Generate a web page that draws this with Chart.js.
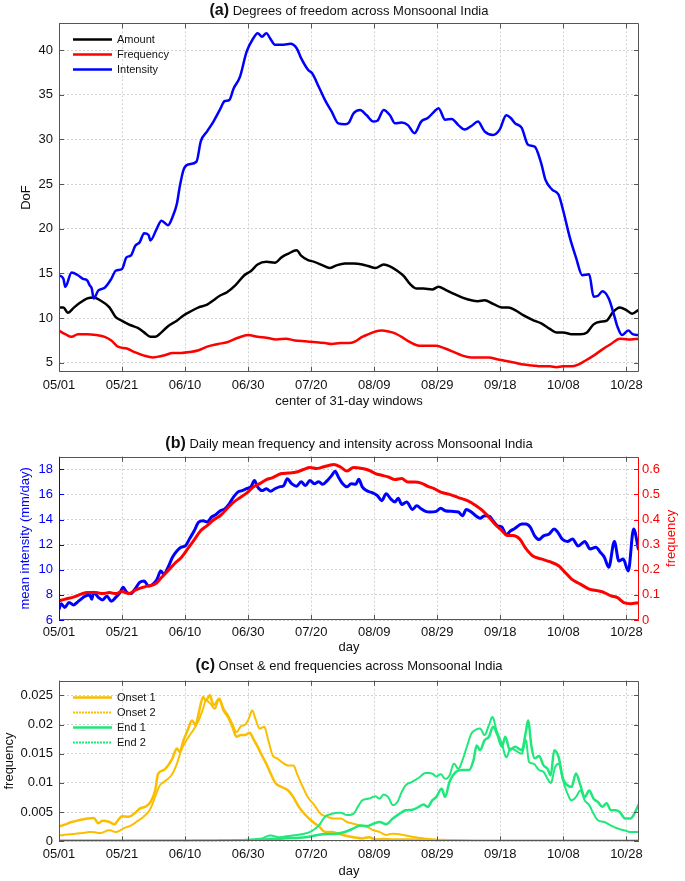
<!DOCTYPE html>
<html><head><meta charset="utf-8">
<script src="https://cdn.jsdelivr.net/npm/chart.js@4.4.0/dist/chart.umd.min.js"></script>
<style>
html,body{margin:0;padding:0;background:#fff;}
body{width:685px;height:881px;position:relative;overflow:hidden;font-family:"Liberation Sans",Arial,Helvetica,sans-serif;}
canvas{position:absolute;left:0;}
.ttl{position:absolute;left:59px;width:580px;text-align:center;font-size:13px;color:#111;line-height:18px;white-space:nowrap;z-index:2;}
.ttl b{font-size:16px;}
</style></head><body>
<canvas id="ca" width="685" height="415" style="top:0px"></canvas>
<canvas id="cb" width="685" height="230" style="top:430px"></canvas>
<canvas id="cc" width="685" height="221" style="top:660px"></canvas>
<div class="ttl" style="top:1px"><b>(a)</b> Degrees of freedom across Monsoonal India</div>
<div class="ttl" style="top:434px"><b>(b)</b> Daily mean frequency and intensity across Monsoonal India</div>
<div class="ttl" style="top:656px"><b>(c)</b> Onset &amp; end frequencies across Monsoonal India</div>
<script>
// ---------- shared x axis ----------
const tickDays = [0,20,40,60,80,100,120,140,160,180];
const tickLabels = ['05/01','05/21','06/10','06/30','07/20','08/09','08/29','09/18','10/08','10/28'];
const xMin = 0, xMax = 184;

// ---------- panel (a): degrees of freedom ----------
const aTicks = [5,10,15,20,25,30,35,40];
const aTickLabels = ['5','10','15','20','25','30','35','40'];
const amountA = [[0,11.2],[1.4,11.2],[2.8,10.6],[4.8,11.2],[7,11.8],[9,12.2],[11,12.3],[13,12.0],[16,11.2],[18,10.1],[20,9.7],[22.8,9.2],[25,8.9],[27,8.4],[29,7.9],[30.5,7.9],[32.5,8.4],[34.6,9.1],[37.4,9.7],[39.5,10.3],[41.5,10.7],[44.3,11.2],[47,11.5],[49,12.0],[51,12.5],[53.3,12.9],[56,13.7],[58.8,14.8],[61,15.3],[63,16.0],[65.8,16.3],[68.5,16.2],[70.6,16.8],[72.7,17.2],[75.4,17.6],[76.8,17.0],[79,16.5],[81,16.3],[83.7,15.9],[85.8,15.6],[88,15.9],[90.7,16.1],[93.4,16.1],[96.2,16.0],[98.3,15.8],[100.4,15.6],[103,16.0],[105,15.8],[107.3,15.3],[109.4,14.7],[111.4,13.8],[113.5,13.3],[115.6,13.3],[118.4,13.2],[120.4,13.5],[122.5,13.2],[125.3,12.7],[128,12.3],[130.8,12.0],[132.9,11.9],[135,12.0],[137.7,11.6],[140.5,11.2],[142.6,11.2],[144.7,10.9],[147.4,10.3],[150.2,9.8],[153,9.4],[155.7,8.8],[157.8,8.4],[159.9,8.4],[162.6,8.2],[165.4,8.2],[167.5,8.4],[169.6,9.3],[171.7,9.6],[173.7,9.7],[175.8,10.7],[177.9,11.2],[180,10.9],[181.8,10.5],[183.8,10.9]];
const freqA = [[0,8.6],[2,8.2],[4,7.9],[6,8.2],[9,8.2],[11.8,8.1],[14.5,7.9],[16.6,7.5],[18.7,6.8],[21.5,6.6],[24,6.2],[27,5.8],[29.8,5.6],[31.8,5.7],[34,5.9],[36,6.1],[38.8,6.1],[41.5,6.2],[44.3,6.4],[47,6.8],[50.5,7.1],[53.3,7.3],[56.8,7.8],[60,8.1],[63,7.9],[65.8,7.8],[69,7.6],[72,7.7],[74.8,7.5],[78.2,7.4],[81.7,7.3],[84.4,7.2],[86.5,7.1],[89.3,7.2],[92,7.2],[94,7.4],[96.2,7.9],[98.3,8.2],[100.4,8.5],[102.4,8.6],[104.5,8.5],[106.6,8.3],[108.7,7.9],[111.4,7.3],[114.2,6.9],[117,6.9],[119.7,6.9],[122.5,6.6],[125.3,6.2],[128,5.8],[130.8,5.6],[133.6,5.6],[136.4,5.6],[139,5.4],[141.9,5.2],[144.7,5.0],[147.4,4.8],[150.2,4.7],[153,4.6],[155.7,4.6],[157.8,4.5],[159.9,4.6],[162.6,4.6],[164.7,4.8],[166.8,5.2],[169.6,5.8],[172.4,6.5],[175.1,7.1],[177.9,7.7],[180.6,7.6],[183.8,7.7]];
const intensityA = [[0,14.8],[1.4,14.4],[2,13.5],[4,15.1],[6,14.8],[7.6,14.4],[9,14.2],[9.7,13.7],[10.4,13.3],[11,12.2],[12.5,13.1],[14.5,13.4],[16.6,14.4],[18,15.3],[20,15.5],[21.4,16.8],[22.8,17.0],[24.2,18.1],[25.6,18.5],[27,19.5],[28.4,19.3],[29,18.7],[31,20.0],[32.5,20.9],[34.6,20.4],[36,21.3],[37.4,22.8],[38.3,24.7],[39.5,26.6],[41,27.2],[43.6,27.5],[45,29.8],[47,30.9],[49,32.0],[51,33.3],[52.6,34.3],[54,34.4],[55.4,35.7],[57.4,37.0],[59.5,39.8],[61.6,41.3],[63,41.9],[64.4,41.5],[65.8,41.9],[67,41.3],[68.5,40.6],[71.3,40.6],[73.4,40.7],[75.4,40.2],[76.8,39.1],[79,37.8],[80.3,37.4],[82.4,35.9],[84.4,34.4],[86.5,33.1],[88.6,31.8],[90.7,31.7],[92,31.9],[93.4,32.9],[95.5,33.3],[97.6,32.7],[99.7,32.0],[101,32.1],[103,33.3],[105,32.7],[106.6,31.8],[108.7,31.9],[110.7,31.6],[112.8,30.7],[114.9,32.0],[117,32.4],[119,33.1],[120.4,33.5],[122.5,32.2],[124.6,32.3],[126.7,31.6],[128.7,31.1],[130.8,31.5],[132.9,32.0],[135,30.9],[137.7,30.5],[139.8,31.1],[141.9,32.7],[143.3,32.4],[144.7,31.8],[146.8,31.3],[148.8,29.4],[150.9,29.2],[153,27.3],[154.3,25.5],[156.4,24.4],[158.5,23.8],[159.9,22.1],[162,19.1],[164,16.8],[166,14.8],[168.2,14.9],[169.6,12.4],[171,12.5],[172.4,13.0],[174.4,12.2],[175.8,10.7],[177.2,9.0],[178.6,8.1],[180.6,8.6],[182,8.2],[183.8,8.1]];

// ---------- panel (b): daily mean intensity & frequency ----------
const bLeftTicks = [6,8,10,12,14,16,18];
const bLeftLabels = ['6','8','10','12','14','16','18'];
const bRightTicks = [0,0.1,0.2,0.3,0.4,0.5,0.6];
const bRightLabels = ['0','0.1','0.2','0.3','0.4','0.5','0.6'];
const intensityB = [[0,6.85],[0.7,7.3],[1.8,7.0],[3.2,7.4],[4.6,7.2],[6.2,7.5],[8.3,7.9],[9.7,8.0],[10.4,7.65],[11,8.2],[12.5,7.8],[13.8,7.6],[15.2,7.9],[16.6,7.5],[18,7.8],[19.4,8.2],[20.3,8.6],[21.5,8.2],[22.8,8.1],[24.2,8.5],[25.6,9.0],[27,9.1],[28.4,8.7],[29.8,8.85],[31.1,9.25],[32.3,9.9],[33.2,9.65],[34.6,10.2],[36,11.0],[37.4,11.5],[38.8,11.8],[40.1,11.9],[41.5,12.5],[42.9,13.1],[44.3,13.8],[45.7,13.9],[47,13.8],[48.4,14.2],[49.8,14.4],[51.2,14.7],[52.6,14.85],[54,15.25],[55.4,15.8],[56.8,16.2],[58.1,16.3],[59.5,16.45],[60.9,16.6],[62,17.1],[63,16.6],[64.4,16.3],[65.8,16.45],[67.1,16.25],[68.5,16.45],[69.9,16.6],[71.3,16.7],[72.4,17.25],[73.8,16.85],[75.4,16.65],[76.8,17.0],[78.2,16.7],[79.6,17.1],[81,16.85],[82.4,17.0],[83.7,16.8],[85.1,17.1],[86.5,17.5],[87.6,17.85],[88.6,17.4],[90,16.85],[91.4,16.6],[92.7,16.85],[94.1,16.8],[95.1,17.2],[96.2,16.6],[97.6,16.3],[99.7,16.1],[101,15.9],[102.4,15.5],[103.8,16.05],[105.2,15.65],[106.6,15.4],[107.6,15.7],[108.7,15.2],[110.3,15.4],[112.1,14.8],[113.5,15.1],[114.9,14.85],[116.3,14.65],[117.7,14.6],[119.7,14.65],[121.1,14.9],[122.5,14.7],[124.6,14.65],[126.7,14.6],[128,14.3],[129.2,14.8],[130.8,14.6],[132.2,14.3],[133.6,14.1],[135,14.3],[136.6,14.25],[137.7,13.9],[139.1,13.5],[140.5,13.4],[141.9,12.8],[143.3,13.1],[144.7,13.3],[146.8,13.65],[148.1,13.65],[149.5,13.4],[150.9,12.7],[152.3,12.4],[153.7,12.7],[155.5,12.85],[157.1,13.25],[158.2,13.0],[159.6,12.45],[161.3,12.25],[162.9,12.45],[164.7,11.9],[166.8,12.25],[168.5,11.65],[170.3,11.8],[171.7,11.4],[173,11.0],[174.4,10.2],[176.2,12.25],[177.6,10.7],[179,10.85],[180.6,9.9],[182.3,13.25],[183.8,11.65]];
const freqB = [[0,0.076],[2,0.083],[4.8,0.092],[7,0.103],[9,0.109],[11.8,0.109],[13.8,0.105],[16,0.109],[18,0.105],[20,0.113],[22.1,0.105],[24.2,0.119],[26.3,0.129],[28.4,0.136],[30.5,0.143],[32.5,0.169],[34.6,0.196],[36.7,0.225],[38.8,0.249],[40.8,0.283],[42.9,0.319],[45,0.356],[47,0.376],[49.1,0.399],[51.2,0.416],[53.3,0.443],[55.4,0.469],[57.4,0.487],[59.5,0.505],[61.6,0.529],[63.7,0.543],[65.8,0.559],[67.8,0.567],[69.2,0.576],[70.6,0.583],[72.7,0.585],[75.4,0.589],[77.5,0.599],[79.6,0.607],[81.7,0.603],[83.7,0.609],[85.8,0.616],[87.2,0.619],[89.3,0.609],[91.4,0.593],[93.4,0.607],[96.2,0.603],[98.3,0.596],[100.4,0.583],[102.4,0.576],[104.5,0.569],[106.6,0.559],[108.7,0.563],[110.7,0.549],[112.8,0.549],[114.9,0.545],[117,0.532],[119,0.523],[121.1,0.509],[123.9,0.5],[126.7,0.487],[129.4,0.476],[132.2,0.456],[134.3,0.436],[136.4,0.409],[138.4,0.38],[140.5,0.356],[142.2,0.336],[144,0.336],[146.1,0.323],[148.2,0.283],[150.2,0.256],[153,0.243],[155.7,0.232],[158.5,0.216],[160.6,0.189],[162.6,0.163],[165.4,0.143],[168.2,0.123],[171,0.116],[173,0.109],[175.1,0.096],[177.2,0.089],[179.2,0.069],[181.3,0.065],[183.8,0.069]];

// ---------- panel (c): onset & end frequencies ----------
const cTicks = [0,0.005,0.01,0.015,0.02,0.025];
const cTickLabels = ['0','0.005','0.01','0.015','0.02','0.025'];
const onset1 = [[0,0.0025],[2,0.0029],[4,0.0033],[6.2,0.0036],[9,0.0039],[11,0.004],[12.5,0.0031],[13.8,0.0035],[16,0.0033],[17.6,0.0029],[18.7,0.0036],[20,0.0043],[22.1,0.0042],[24.2,0.0049],[25.6,0.0056],[27.7,0.006],[29,0.0067],[30.5,0.0087],[31.4,0.0115],[33.2,0.0122],[34.6,0.013],[36,0.0142],[37.4,0.0159],[38.3,0.0153],[39.5,0.0173],[40.8,0.019],[42.2,0.0207],[43.3,0.0199],[44.3,0.0219],[45.7,0.0247],[46.6,0.0241],[47.8,0.025],[49.1,0.0233],[50.8,0.0244],[52.2,0.0224],[53.6,0.0213],[55,0.0196],[56.3,0.0179],[57.7,0.0182],[59.1,0.0182],[60.5,0.0186],[61.6,0.0176],[63,0.0162],[64.4,0.0147],[66,0.013],[67.4,0.0113],[68.8,0.0099],[70.6,0.0093],[72.7,0.0087],[74.3,0.0076],[76.1,0.0059],[78.2,0.0045],[79.9,0.0036],[81.3,0.003],[82.6,0.0025],[84.4,0.0016],[86.5,0.0016],[88.6,0.0013],[90.7,0.001],[93.4,0.0007],[96.2,0.0005],[98.3,0.0007],[100.4,0.0003],[103,0.0004],[105.9,0.0003],[111.4,0.0003],[117,0.0002],[126.7,0.0001],[133.6,0.0001],[147.4,0.0001],[160,0.0001],[183.8,0.0001]];
const onset2 = [[0,0.001],[3.5,0.0012],[7,0.0014],[10.4,0.0016],[13,0.0014],[16,0.0019],[18,0.0016],[20.8,0.0023],[22.8,0.0027],[25,0.0035],[27,0.0043],[29,0.0056],[30.9,0.0082],[31.8,0.0094],[33.9,0.0104],[36,0.0116],[37.4,0.0133],[38.8,0.0156],[40.1,0.017],[41.5,0.0182],[42.9,0.0193],[44.3,0.0207],[45.7,0.0227],[46.6,0.0241],[48,0.0236],[49.4,0.0227],[50.8,0.0244],[52.2,0.0227],[53.6,0.0216],[55,0.0201],[56.3,0.0187],[57.7,0.0197],[59.1,0.02],[60.2,0.021],[61.3,0.0224],[62.3,0.021],[63.7,0.0193],[65.1,0.0196],[66.4,0.0173],[67.8,0.0147],[69.2,0.0142],[70.6,0.0136],[72.7,0.013],[74.3,0.013],[75.7,0.0113],[77.1,0.0096],[78.9,0.0076],[81,0.0062],[83,0.0047],[85.1,0.0042],[87.2,0.0039],[89.3,0.0039],[91.4,0.0033],[93.4,0.003],[95.5,0.0027],[97.6,0.0025],[99.7,0.0019],[101.7,0.0016],[103.8,0.0011],[105.9,0.0013],[108,0.0012],[110,0.001],[112.8,0.0007],[115.6,0.0005],[119.7,0.0003],[126.7,0.0002],[133.6,0.0001],[183.8,0.0001]];
const end1 = [[0,0.0001],[30,0.0001],[50,0.0001],[64.4,0.0003],[71.3,0.0005],[78.2,0.0007],[83.7,0.0012],[88,0.0013],[90.7,0.0016],[93.4,0.0022],[95.5,0.0027],[97.6,0.0026],[99.7,0.003],[101.7,0.0033],[103.8,0.0029],[105.9,0.0039],[108,0.0047],[110,0.0053],[112.1,0.0054],[114.2,0.0059],[115.6,0.0063],[117,0.0059],[118.4,0.007],[119.7,0.0076],[121.4,0.009],[122.5,0.0076],[123.9,0.0102],[126,0.0119],[128,0.0122],[130.1,0.0122],[131.5,0.0139],[132.5,0.0164],[133.6,0.0156],[135,0.0173],[136.4,0.0179],[137.7,0.0196],[139.1,0.0182],[140.5,0.0162],[141.6,0.0179],[143,0.0156],[144.7,0.0162],[146.8,0.0156],[148.1,0.0187],[148.8,0.0207],[149.9,0.0162],[150.9,0.0142],[152.3,0.0146],[153.7,0.013],[155,0.0124],[156,0.0113],[157.1,0.0156],[158.5,0.0144],[159.9,0.0107],[161.3,0.0096],[162.6,0.0093],[164,0.0116],[165.4,0.0096],[166.8,0.0076],[168.2,0.0087],[169.6,0.0073],[171,0.0067],[172.4,0.0059],[173.7,0.0065],[175.1,0.0053],[176.5,0.0053],[177.9,0.005],[179.6,0.0039],[181.3,0.0039],[182.3,0.0045],[183.8,0.0062]];
const end2 = [[0,0.0001],[30,0.0001],[55,0.0002],[64.4,0.0005],[67.1,0.001],[69.9,0.0007],[72.7,0.0009],[76.8,0.0012],[79.6,0.0016],[82.4,0.0027],[84.4,0.0042],[86.5,0.0047],[89.3,0.0049],[91.4,0.0045],[93.4,0.0047],[94.8,0.0059],[96.2,0.007],[98.3,0.0073],[100.4,0.0077],[101.7,0.0073],[103,0.008],[104.5,0.0075],[105.9,0.0062],[107.3,0.0067],[108.7,0.0084],[110,0.0096],[112.1,0.0102],[114.2,0.0109],[116.3,0.0117],[118.4,0.0116],[119.7,0.0111],[121.1,0.0115],[122.5,0.0107],[123.9,0.0113],[125.3,0.0133],[126.7,0.0124],[128,0.0139],[129.4,0.0162],[130.8,0.0184],[132.2,0.0191],[133.6,0.0193],[135,0.0182],[136.4,0.0199],[137.5,0.0213],[138.8,0.019],[140.5,0.0167],[141.9,0.0144],[143.3,0.0159],[144.7,0.0156],[146.8,0.015],[148.1,0.0173],[149.1,0.0136],[150.5,0.0133],[152.3,0.0122],[153.7,0.0119],[155,0.0107],[156,0.01],[157.4,0.0127],[158.5,0.0133],[159.9,0.0104],[161.3,0.0082],[162.6,0.007],[164,0.0076],[165.4,0.0087],[166.8,0.007],[168.2,0.0062],[169.6,0.0047],[171,0.0036],[173,0.0033],[175.1,0.0027],[177.2,0.0022],[179.2,0.0019],[181.3,0.0016],[183.8,0.0016]];

// ---------- helpers ----------
const FONT = "'Liberation Sans', Arial, Helvetica, sans-serif";
Chart.defaults.font.family = FONT;
Chart.defaults.font.size = 13;
Chart.defaults.color = '#111';
const GRID = '#d2d2d2';
const toXY = arr => arr.map(p => ({x: p[0], y: p[1]}));

function xAxis(height, labelPad, title, titlePadBottom) {
  return {
    type: 'linear', position: 'bottom', min: xMin, max: xMax,
    afterBuildTicks: s => { s.ticks = tickDays.map(v => ({value: v})); },
    afterFit: s => { s.height = height; },
    ticks: { callback: (v, i) => tickLabels[i], padding: labelPad, maxRotation: 0, autoSkip: false, color: '#111', font: {size: 13} },
    grid: { color: GRID, lineWidth: 1, drawTicks: false },
    border: { display: false, dash: [2, 2] },
    title: { display: true, text: title, color: '#111', padding: {top: 0, bottom: titlePadBottom}, font: {size: 13} }
  };
}
function yAxis(o) {
  return {
    type: 'linear', position: o.pos, min: o.min, max: o.max,
    afterBuildTicks: s => { s.ticks = o.ticks.map(v => ({value: v})); },
    afterFit: s => { s.width = o.width; },
    ticks: { callback: (v, i) => o.labels[i], padding: o.pad, color: o.color || '#111', autoSkip: false, font: {size: 13} },
    grid: { display: o.grid !== false, color: GRID, lineWidth: 1, drawTicks: false },
    border: { display: false, dash: [2, 2] },
    title: { display: o.showTitle !== false, text: o.title, color: o.color || '#111', padding: {top: o.tpad, bottom: 0}, font: {size: 13} }
  };
}

const frame = {
  id: 'frame',
  afterDatasetsDraw(chart, args, o) {
    const {ctx, chartArea: a, scales} = chart;
    const L = 5;
    ctx.save();
    ctx.lineWidth = 1;
    const line = (x1, y1, x2, y2, c) => { ctx.strokeStyle = c; ctx.beginPath(); ctx.moveTo(x1, y1); ctx.lineTo(x2, y2); ctx.stroke(); };
    const xs = scales.x;
    xs.ticks.forEach(t => {
      const p = Math.round(xs.getPixelForValue(t.value)) + 0.5;
      line(p, a.bottom, p, a.bottom - L, o.xc);
      line(p, a.top, p, a.top + L, o.xc);
    });
    const yl = scales.y;
    yl.ticks.forEach(t => {
      const p = Math.round(yl.getPixelForValue(t.value)) + 0.5;
      line(a.left, p, a.left + L, p, o.lc);
      if (!scales.y2) line(a.right, p, a.right - L, p, o.lc);
    });
    if (scales.y2) {
      const yr = scales.y2;
      yr.ticks.forEach(t => {
        const p = Math.round(yr.getPixelForValue(t.value)) + 0.5;
        line(a.right, p, a.right - L, p, o.rc);
      });
    }
    const L0 = Math.round(a.left) + 0.5, R0 = Math.round(a.right) - 0.5;
    const T0 = Math.round(a.top) + 0.5, B0 = Math.round(a.bottom) - 0.5;
    line(L0, T0, R0, T0, o.xc);
    line(L0, B0, R0, B0, o.xc);
    line(L0, T0, L0, B0, o.lc);
    line(R0, T0, R0, B0, o.rc);
    ctx.restore();
  }
};

// right-hand axis title, read bottom-to-top like the left one
const rightTitle = {
  id: 'rightTitle',
  afterDraw(chart, args, o) {
    if (!o || !o.text) return;
    const {ctx, chartArea: a} = chart;
    ctx.save();
    ctx.font = '13px ' + FONT;
    ctx.fillStyle = o.color;
    ctx.textAlign = 'center';
    ctx.textBaseline = 'middle';
    ctx.translate(o.x, (a.top + a.bottom) / 2);
    ctx.rotate(-Math.PI / 2);
    ctx.fillText(o.text, 0, 0);
    ctx.restore();
  }
};

const legendIn = {
  id: 'legendIn',
  afterDraw(chart, args, o) {
    if (!o || !o.show) return;
    const {ctx, chartArea: a} = chart;
    ctx.save();
    ctx.font = '11px ' + FONT;
    ctx.textBaseline = 'middle';
    ctx.textAlign = 'left';
    chart.data.datasets.forEach((ds, i) => {
      const y = Math.round(a.top + o.y0 + i * o.dy) + 0.5;
      ctx.beginPath();
      ctx.strokeStyle = ds.borderColor;
      ctx.lineWidth = ds.borderWidth;
      ctx.setLineDash(ds.borderDash || []);
      ctx.moveTo(a.left + 14, y);
      ctx.lineTo(a.left + 53, y);
      ctx.stroke();
      ctx.setLineDash([]);
      ctx.fillStyle = '#111';
      ctx.fillText(ds.label, a.left + 58, y);
    });
    ctx.restore();
  }
};

const common = {
  responsive: false, animation: false, devicePixelRatio: 1,
  elements: { point: {radius: 0, hoverRadius: 0}, line: {cubicInterpolationMode: 'monotone', fill: false, borderCapStyle: 'round', borderJoinStyle: 'round'} },
  events: []
};

// ---------- chart (a) ----------
new Chart(document.getElementById('ca'), {
  type: 'line',
  data: { datasets: [
    {label: 'Amount', data: toXY(amountA), borderColor: '#000000', borderWidth: 2.5, order: 3},
    {label: 'Frequency', data: toXY(freqA), borderColor: '#ff0000', borderWidth: 2.5, order: 2},
    {label: 'Intensity', data: toXY(intensityA), borderColor: '#0000ff', borderWidth: 2.5, order: 1}
  ]},
  options: Object.assign({}, common, {
    layout: { padding: {top: 23.3, right: 46, left: 0, bottom: 0} },
    plugins: { legend: {display: false}, tooltip: {enabled: false},
      legendIn: {show: true, y0: 15.4, dy: 15},
      frame: {xc: '#555', lc: '#555', rc: '#555'} },
    scales: {
      x: xAxis(43.3, 6, 'center of 31-day windows', 5.5),
      y: yAxis({pos: 'left', min: 4, max: 43, ticks: aTicks, labels: aTickLabels, width: 59, pad: 6, title: 'DoF', tpad: 19})
    }
  }),
  plugins: [frame, legendIn]
});

// ---------- chart (b) ----------
new Chart(document.getElementById('cb'), {
  type: 'line',
  data: { datasets: [
    {label: 'mean intensity', data: toXY(intensityB), borderColor: '#0000ff', borderWidth: 3, yAxisID: 'y', order: 2},
    {label: 'frequency', data: toXY(freqB), borderColor: '#ff0000', borderWidth: 3, yAxisID: 'y2', order: 1}
  ]},
  options: Object.assign({}, common, {
    layout: { padding: {top: 26.7, right: 0, left: 0, bottom: 0} },
    plugins: { legend: {display: false}, tooltip: {enabled: false},
      legendIn: {show: false},
      rightTitle: {text: 'frequency', color: '#ff0000', x: 671},
      frame: {xc: '#555', lc: '#0000ff', rc: '#ff0000'} },
    scales: {
      x: xAxis(40, 5, 'day', 5),
      y: yAxis({pos: 'left', min: 6, max: 19, ticks: bLeftTicks, labels: bLeftLabels, width: 59, pad: 6, title: 'mean intensity (mm/day)', tpad: 17.7, color: '#0000ff'}),
      y2: yAxis({pos: 'right', min: 0, max: 0.65, ticks: bRightTicks, labels: bRightLabels, width: 46, pad: 3, title: 'frequency', showTitle: false, tpad: 7, color: '#ff0000', grid: false})
    }
  }),
  plugins: [frame, rightTitle]
});

// ---------- chart (c) ----------
const orange = 'rgb(250,190,0)';
const green = 'rgb(30,232,122)';
new Chart(document.getElementById('cc'), {
  type: 'line',
  data: { datasets: [
    {label: 'Onset 1', data: toXY(onset1), borderColor: orange, borderWidth: 2.5, order: 4},
    {label: 'Onset 2', data: toXY(onset2), borderColor: orange, borderWidth: 2, borderDash: [2, 1], order: 3},
    {label: 'End 1', data: toXY(end1), borderColor: green, borderWidth: 2.5, order: 2},
    {label: 'End 2', data: toXY(end2), borderColor: green, borderWidth: 2, borderDash: [2, 1], order: 1}
  ]},
  options: Object.assign({}, common, {
    layout: { padding: {top: 20.7, right: 46, left: 0, bottom: 0} },
    plugins: { legend: {display: false}, tooltip: {enabled: false},
      legendIn: {show: true, y0: 15.8, dy: 15},
      frame: {xc: '#555', lc: '#555', rc: '#555'} },
    scales: {
      x: xAxis(39.7, 5, 'day', 1.5),
      y: yAxis({pos: 'left', min: 0, max: 0.0275, ticks: cTicks, labels: cTickLabels, width: 59, pad: 6, title: 'frequency', tpad: 2})
    }
  }),
  plugins: [frame, legendIn]
});
</script>
</body></html>
